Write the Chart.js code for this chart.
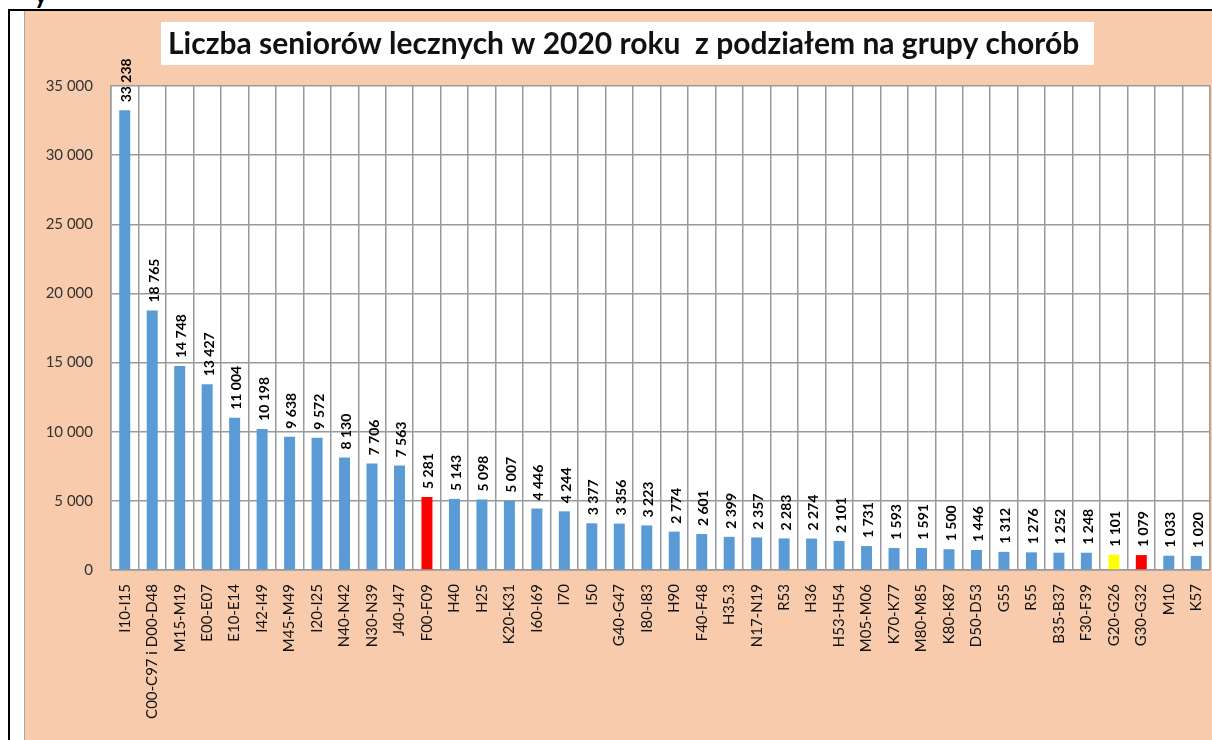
<!DOCTYPE html>
<html>
<head>
<meta charset="utf-8">
<script src="https://cdn.jsdelivr.net/npm/chart.js@4"></script>
<style>
  html, body { margin: 0; padding: 0; background: #fff; }
  body { width: 1212px; height: 740px; position: relative; overflow: hidden; font-family: Lato, sans-serif; }
  #frame { position: absolute; left: 8px; top: 9px; width: 1220px; height: 760px; border-top: 2px solid #000; border-left: 2px solid #000; }
  #cut { position: absolute; left: 34px; top: -22px; font: bold 26px Lato, sans-serif; color: #000; }
  #wrap { position: absolute; left: 24px; top: 11px; width: 1188px; height: 729px; background: #f8cbad; border-left: 1px solid #a6a6a6; box-sizing: border-box; }
</style>
</head>
<body>
<div id="cut">y</div>
<div id="frame"></div>
<div id="wrap"><canvas id="chart"></canvas></div>
<script>
// Liczba seniorów lecznych w 2020 roku wg grup chorób
const categories = ["I10-I15", "C00-C97 i D00-D48", "M15-M19", "E00-E07", "E10-E14", "I42-I49", "M45-M49", "I20-I25",
  "N40-N42", "N30-N39", "J40-J47", "F00-F09", "H40", "H25", "K20-K31", "I60-I69", "I70", "I50", "G40-G47", "I80-I83",
  "H90", "F40-F48", "H35.3", "N17-N19", "R53", "H36", "H53-H54", "M05-M06", "K70-K77", "M80-M85", "K80-K87", "D50-D53",
  "G55", "R55", "B35-B37", "F30-F39", "G20-G26", "G30-G32", "M10", "K57"];
const patients = [33238, 18765, 14748, 13427, 11004, 10198, 9638, 9572, 8130, 7706, 7563, 5281, 5143, 5098, 5007, 4446,
  4244, 3377, 3356, 3223, 2774, 2601, 2399, 2357, 2283, 2274, 2101, 1731, 1593, 1591, 1500, 1446, 1312, 1276, 1252, 1248,
  1101, 1079, 1033, 1020];
const highlightRed = ["F00-F09", "G30-G32"];
const highlightYellow = ["G20-G26"];
const yTicks = [0, 5000, 10000, 15000, 20000, 25000, 30000, 35000];

const fmt = v => String(v).replace(/\B(?=(\d{3})+(?!\d))/g, " ");

const barColors = categories.map(c =>
  highlightRed.includes(c) ? "#ff0000" : highlightYellow.includes(c) ? "#ffff00" : "#5b9bd5");

// white title box + white plot area
const backdrop = {
  id: "backdrop",
  beforeDraw(chart) {
    const ctx = chart.ctx;
    const a = chart.chartArea;
    ctx.save();
    ctx.fillStyle = "#fff";
    ctx.fillRect(a.left, a.top, a.right - a.left, a.bottom - a.top);
    ctx.fillRect(136, 11, 933, 43);
    ctx.fillStyle = "#111";
    ctx.font = "bold 30px Lato";
    ctx.textBaseline = "middle";
    ctx.fillText("Liczba seniorów lecznych w 2020 roku  z podziałem na grupy chorób", 143, 33);
    ctx.restore();
  }
};

// values above bars, rotated
const barLabels = {
  id: "barLabels",
  afterDatasetsDraw(chart) {
    const ctx = chart.ctx;
    const meta = chart.getDatasetMeta(0);
    ctx.save();
    ctx.fillStyle = "#000";
    ctx.font = "bold 14px Lato";
    ctx.textAlign = "left";
    ctx.textBaseline = "middle";
    meta.data.forEach((bar, i) => {
      ctx.save();
      ctx.translate(bar.x + 2, bar.y - 8);
      ctx.rotate(-Math.PI / 2);
      ctx.fillText(fmt(patients[i]), 0, 0);
      ctx.restore();
    });
    ctx.restore();
  }
};

new Chart(document.getElementById("chart"), {
  type: "bar",
  data: {
    labels: categories,
    datasets: [{
      data: patients,
      backgroundColor: barColors,
      borderWidth: 0,
      barPercentage: 0.4,
      categoryPercentage: 1
    }]
  },
  options: {
    responsive: true,
    maintainAspectRatio: false,
    animation: false,
    layout: { padding: { top: 75, right: 2, left: 0, bottom: 0 } },
    plugins: { legend: { display: false }, tooltip: { enabled: false } },
    scales: {
      x: {
        grid: { color: "#9a9a9a", lineWidth: 1.5, drawTicks: false, offset: true },
        border: { color: "#9a9a9a", width: 1.5 },
        ticks: {
          color: "#111", font: { family: "Lato", size: 15 },
          minRotation: 90, maxRotation: 90, autoSkip: false, padding: 14
        },
        afterFit: s => { s.height = 170; s.paddingRight = 0; s.paddingLeft = 0; }
      },
      y: {
        min: 0, max: 35000,
        grid: { color: "#9a9a9a", lineWidth: 1.5, drawTicks: false },
        border: { color: "#9a9a9a", width: 1.5 },
        afterBuildTicks: s => { s.ticks = yTicks.map(v => ({ value: v })); },
        ticks: {
          color: "#333", font: { family: "Lato", size: 15 }, padding: 18,
          callback: v => fmt(v)
        },
        afterFit: s => { s.width = 86; }
      }
    }
  },
  plugins: [backdrop, barLabels]
});
</script>
</body>
</html>
